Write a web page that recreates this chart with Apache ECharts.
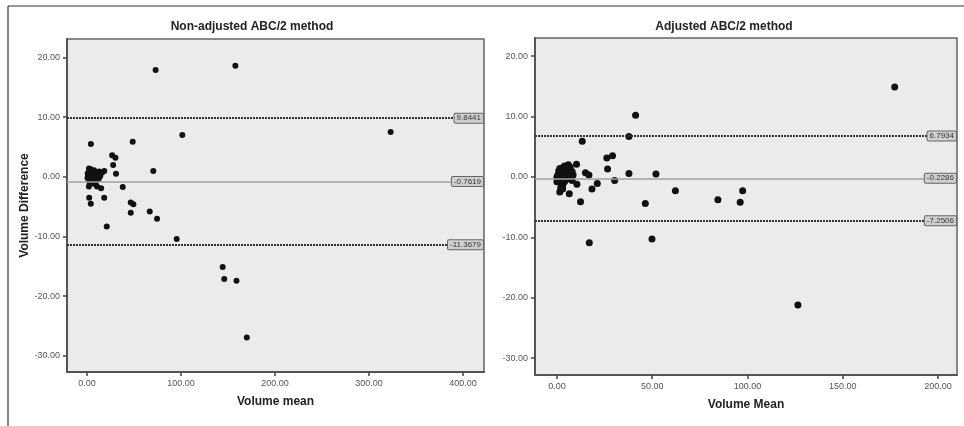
<!DOCTYPE html>
<html><head><meta charset="utf-8">
<script src="https://cdn.jsdelivr.net/npm/echarts@6/dist/echarts.min.js"></script>
<style>html,body{margin:0;padding:0;background:#fff}#c{width:964px;height:426px}</style>
</head><body><div id="c"></div>
<script>
// Left panel: Non-adjusted ABC/2 method
var leftMean = [73,157.8,323,101.4,48.6,4.1,26.8,30.2,27.8,30.8,70.5,38,2.3,4,18.3,46.5,49.3,46.5,66.7,74.5,21,95.4,144.3,146,159,170,15,10.6,2,
  1,2,3,4,5,6,7,8,9,10,11,12,13,14,16,18.4,2.5,3.5,5.5,7.5,1.5,4.5,6.5,0.5,3,9.5,12.5,5,8,2,
  1.5,3,4.5,6,7.5,9,10.5,12,2,5,8,11,3.5,6.5,0.8,2.8,4.8];
var leftDiff = [17.9,18.6,7.5,7.0,5.9,5.5,3.6,3.2,2.0,0.5,1.0,-1.7,-3.5,-4.5,-3.5,-4.3,-4.6,-6.0,-5.8,-7.0,-8.3,-10.4,-15.1,-17.1,-17.4,-26.9,-1.9,-1.6,-1.6,
  0,0.5,1.0,0.2,-0.3,0.8,0.4,-0.5,0.6,0.2,-0.2,0.5,0.9,0.1,0.7,1.0,-0.8,1.3,-1.0,1.1,0.3,-0.5,0,-0.2,-0.4,-0.8,-0.3,0.6,-1.2,1.4,
  0.1,0.2,0.4,0.3,0.1,-0.1,0.3,0.2,0.7,0.9,0.6,0.4,-0.1,-0.2,0.6,0.8,1.1];
var leftLines = [9.8441, -0.7619, -11.3679];
var leftLineLabels = ['9.8441', '-0.7619', '-11.3679'];
var leftXTicks = [0, 100, 200, 300, 400];
// Right panel: Adjusted ABC/2 method
var rightMean = [177.3,41.3,37.8,13.3,26.2,29.2,26.6,37.8,52,10.3,15,16.8,30.3,21.2,18.4,10.5,6.5,12.4,1.5,62.2,46.4,84.5,97.5,96.2,17,49.9,126.5,
  0,1,2,3,4,5,6,7,8,1,2,3,4,5,6,7,0.5,2.5,3.5,4.5,6.8,8.5,1.5,5.5,3,2,0,8,
  1,2,3,4,5,6,1.5,3.5,5.5,7,0.5,2.5,4.5,6.5,1,3,5,2,4];
var rightDiff = [14.9,10.2,6.7,5.9,3.15,3.5,1.3,0.55,0.5,2.1,0.7,0.3,-0.6,-1.1,-2.0,-1.2,-2.8,-4.1,-2.5,-2.3,-4.4,-3.8,-2.3,-4.2,-10.9,-10.3,-21.2,
  0,0.5,1.0,1.5,1.8,1.2,2.0,1.6,0.9,-0.5,-1.0,-1.5,-0.8,-0.3,0.2,-0.4,0.3,0.2,-0.2,0.6,0.9,0.3,1.4,1.7,-2.0,-1.8,-0.8,-0.6,
  0.2,0.4,0.6,0.8,0.5,0.7,-0.2,0.1,0.0,0.4,-0.1,-0.4,-0.2,-0.1,1.0,1.1,0.9,-0.6,-0.5];
var rightLines = [6.7934, -0.2286, -7.2506];
var rightLineLabels = ['6.7934', '-0.2286', '-7.2506'];
var rightXTicks = [0, 50, 100, 150, 200];
var yTicks = [-30, -20, -10, 0, 10, 20];

function pairs(xs, ys){ return xs.map(function(x,i){return [x, ys[i]];}); }
function fmt(v){ return v.toFixed(2); }
var FONT = 'Liberation Sans, Arial, sans-serif';

function lineData(vals, labels){
  return vals.map(function(v,i){
    return {
      yAxis: v,
      lineStyle: i === 1 ? {type:'solid', color:'#a0a0a0', width:1.5} : {type:[2,1], color:'#333', width:2},
      label: {formatter: labels[i]}
    };
  });
}
function xAxisCfg(idx, min, max, ticks, name){
  return {
    gridIndex: idx, type:'value', min:min, max:max, name:name, nameLocation:'middle', nameGap:24,
    nameTextStyle:{fontFamily:FONT, fontWeight:'bold', fontSize:12, color:'#222'},
    axisLine:{show:true, onZero:false, lineStyle:{color:'#555', width:2}},
    axisTick:{show:true, inside:false, length:4, customValues:ticks, lineStyle:{color:'#444', width:1.5}},
    axisLabel:{customValues:ticks, formatter:fmt, fontFamily:FONT, fontSize:9, color:'#555', margin:7},
    splitLine:{show:false}
  };
}
function yAxisCfg(idx, min, max, name){
  return {
    gridIndex: idx, type:'value', min:min, max:max, name:name, nameLocation:'middle', nameGap:34,
    nameTextStyle:{fontFamily:FONT, fontWeight:'bold', fontSize:12, color:'#222'},
    axisLine:{show:true, onZero:false, lineStyle:{color:'#555', width:2}},
    axisTick:{show:true, length:4, customValues:yTicks, lineStyle:{color:'#444', width:1.5}},
    axisLabel:{customValues:yTicks, formatter:fmt, fontFamily:FONT, fontSize:9, color:'#555', margin:7},
    splitLine:{show:false}
  };
}
function seriesCfg(idx, data, lines, labels, size){
  return {
    type:'scatter', xAxisIndex:idx, yAxisIndex:idx, data:data, symbolSize:size,
    itemStyle:{color:'#111', opacity:1},
    silent:true, animation:false,
    markLine:{
      silent:true, symbol:['none','none'], animation:false,
      label:{show:true, position:'end', distance:-1, align:'right', fontFamily:FONT, fontSize:8, color:'#333',
        backgroundColor:'#cfcfcf', borderColor:'#666', borderWidth:1, borderRadius:1, padding:[1,2,0,2]},
      data: lineData(lines, labels)
    }
  };
}

var chart = echarts.init(document.getElementById('c'), null, {renderer:'canvas'});
chart.setOption({
  backgroundColor:'#fff',
  animation:false,
  title:[
    {text:'Non-adjusted ABC/2 method', left:247, top:16, textAlign:'center',
     textStyle:{fontFamily:FONT, fontWeight:'bold', fontSize:12, color:'#222'}},
    {text:'Adjusted ABC/2 method', left:719, top:16, textAlign:'center',
     textStyle:{fontFamily:FONT, fontWeight:'bold', fontSize:12, color:'#222'}}
  ],
  grid:[
    {left:67, right:480, top:39, bottom:54, show:true, backgroundColor:'#ebebeb', borderColor:'#666', borderWidth:1.5},
    {left:535, right:7, top:38, bottom:51, show:true, backgroundColor:'#ebebeb', borderColor:'#666', borderWidth:1.5}
  ],
  xAxis:[ xAxisCfg(0, -21.3, 422.3, leftXTicks, 'Volume mean'), xAxisCfg(1, -11.5, 210, rightXTicks, 'Volume Mean') ],
  yAxis:[ yAxisCfg(0, -32.7, 23.1, 'Volume Difference'), yAxisCfg(1, -32.8, 23.0, '') ],
  series:[
    seriesCfg(0, pairs(leftMean, leftDiff), leftLines, leftLineLabels, 6),
    seriesCfg(1, pairs(rightMean, rightDiff), rightLines, rightLineLabels, 7)
  ],
  graphic:[
    {type:'line', shape:{x1:8, y1:6, x2:964, y2:6}, style:{stroke:'#333', lineWidth:1.2}},
    {type:'line', shape:{x1:8, y1:6, x2:8, y2:426}, style:{stroke:'#333', lineWidth:1.2}}
  ]
});
</script></body></html>
